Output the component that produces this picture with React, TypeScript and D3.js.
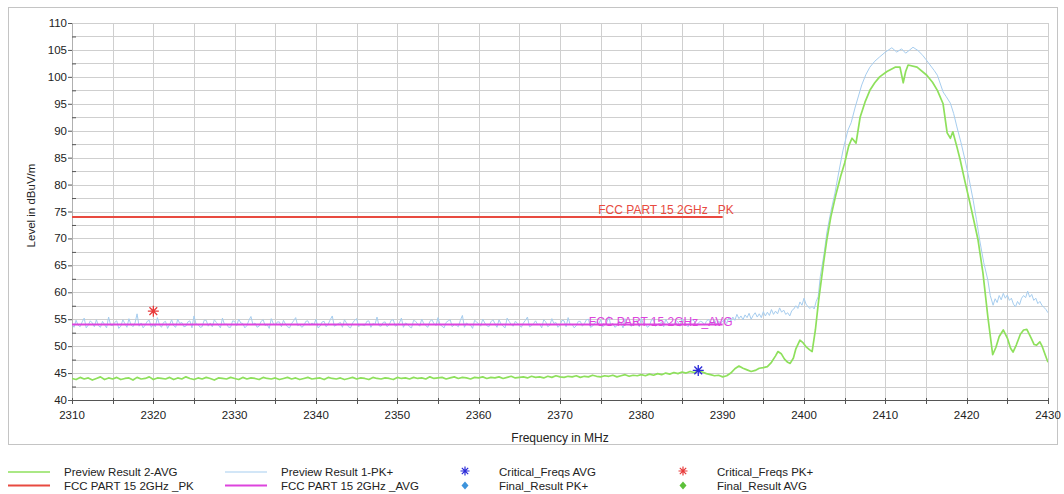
import React from "react";
import * as d3 from "d3";

// ---------- DATA ----------
const xTickLabels = [2310, 2320, 2330, 2340, 2350, 2360, 2370, 2380, 2390, 2400, 2410, 2420, 2430];
const yTickLabels = [40, 45, 50, 55, 60, 65, 70, 75, 80, 85, 90, 95, 100, 105, 110];

// Preview Result 1-PK+ : uniform sweep 2310..2390 MHz, 0.25 MHz step
const pkSweepStart = 2310;
const pkSweepStep = 0.25;
const pkSweepLevels = [
  54.1, 53.5, 54.8, 53.9, 53.6, 54.5, 55.2, 53.4, 53.9, 54.7,
  54.3, 53.6, 54.9, 53.8, 53.5, 54.6, 54.0, 53.4, 55.4, 53.9,
  53.8, 54.4, 54.7, 53.3, 53.7, 54.9, 54.2, 53.5, 55.1, 54.0,
  53.6, 54.3, 56.0, 53.7, 54.3, 53.4, 53.9, 54.6, 54.8, 53.5,
  54.1, 53.6, 55.3, 54.0, 53.5, 54.4, 54.6, 53.3, 54.0, 54.9,
  53.8, 53.5, 55.0, 54.2, 54.4, 53.6, 53.7, 54.5, 54.7, 53.4,
  55.6, 54.1, 54.0, 53.5, 53.6, 54.8, 54.8, 53.7, 54.3, 53.6,
  54.9, 54.4, 53.9, 53.4, 55.2, 54.0, 54.1, 53.5, 53.5, 54.7,
  54.6, 53.8, 55.0, 54.3, 54.2, 53.4, 53.8, 54.8, 55.5, 54.0,
  54.3, 53.5, 53.7, 54.6, 54.9, 53.8, 54.0, 53.3, 55.1, 54.2,
  53.9, 54.5, 54.5, 53.6, 54.8, 54.1, 53.6, 53.4, 54.2, 54.7,
  55.3, 53.8, 54.0, 53.5, 53.8, 54.6, 54.7, 53.9, 54.3, 54.0,
  55.0, 53.4, 53.7, 54.5, 54.6, 53.6, 54.1, 54.9, 55.6, 53.7,
  53.9, 54.2, 54.4, 53.5, 54.9, 54.3, 53.6, 53.4, 54.3, 54.8,
  55.1, 53.6, 54.0, 53.9, 53.8, 54.6, 54.7, 53.5, 54.2, 54.0,
  55.4, 53.8, 53.7, 54.4, 54.5, 53.6, 54.0, 54.8, 54.9, 53.7,
  53.9, 54.3, 55.2, 53.5, 54.3, 54.1, 53.6, 53.4, 54.8, 54.6,
  54.1, 53.7, 55.0, 54.2, 53.8, 53.5, 54.6, 54.9, 54.2, 53.8,
  55.3, 54.0, 53.7, 53.4, 54.4, 54.7, 54.9, 53.6, 54.0, 53.9,
  53.6, 54.8, 55.7, 53.5, 54.3, 54.0, 53.9, 53.3, 54.8, 54.5,
  54.1, 53.7, 55.0, 54.3, 53.8, 53.6, 54.5, 54.9, 54.2, 53.5,
  54.9, 54.1, 53.7, 53.4, 55.2, 54.6, 54.0, 53.7, 54.6, 54.3,
  53.9, 53.5, 54.3, 54.8, 55.4, 53.6, 53.8, 54.2, 54.7, 54.0,
  54.1, 53.4, 54.9, 54.5, 53.6, 53.9, 55.1, 54.2, 54.4, 53.5,
  53.9, 54.8, 54.7, 53.6, 55.3, 54.0, 54.0, 53.4, 53.8, 54.6,
  54.6, 53.7, 54.2, 54.9, 55.0, 53.5, 53.7, 54.3, 54.5, 54.1,
  54.9, 53.6, 53.9, 54.4, 55.5, 53.8, 54.2, 53.5, 53.8, 54.7,
  54.3, 53.4, 55.1, 54.0, 54.0, 53.7, 53.9, 54.6, 54.7, 53.6,
  55.2, 54.1, 54.1, 53.5, 53.8, 54.9, 54.9, 53.7, 54.0, 54.2,
  54.4, 53.6, 55.0, 54.3, 54.1, 53.8, 53.9, 54.8, 54.5, 53.7,
  55.2, 54.4, 54.0, 53.6, 54.7, 54.9, 54.7, 53.8, 54.3, 54.6,
  54.5, 53.9, 54.6, 55.0, 54.3, 54.1, 54.9, 53.9, 54.7, 54.2,
  54.6,
];
// Preview Result 1-PK+ : 2390.25..2401.75 MHz, 0.25 MHz step
const pkMidStart = 2390.25;
const pkMidStep = 0.25;
const pkMidLevels = [
  54.9, 54.2, 55.3,
  54.6, 55.4, 54.8, 55.9,
  55.1, 55.6, 54.9, 55.8,
  55.3, 56.1, 55.0, 55.7,
  56.2, 55.4, 56.0, 55.3,
  56.4, 55.6, 56.3, 55.7,
  56.8, 55.9, 56.5, 56.0,
  57.1, 56.3, 56.7, 55.9,
  56.2, 55.6, 56.6, 56.9,
  57.5, 57.0, 58.2, 57.6,
  58.9, 57.8, 57.3, 57.0,
  57.4, 56.9, 58.3, 59.2,
];
// Preview Result 1-PK+ : main emission (frequency, level)
const pkPeakFreqs = [
  2402, 2402.5, 2402.8, 2403.3, 2403.8, 2404.3, 2404.8, 2405.4, 2405.8, 2406.3,
  2407.1, 2407.6, 2408.1, 2408.7, 2409.3, 2410.0, 2410.8, 2411.4, 2412.0, 2412.5,
  2413.0, 2413.4, 2414.0, 2414.6, 2415.0, 2415.5, 2416.0, 2416.4, 2417.1, 2417.5,
  2418.0, 2418.4, 2418.8, 2419.3, 2419.8, 2420.3, 2420.8, 2421.2, 2421.6, 2422.1,
  2422.6, 2422.9,
];
const pkPeakLevels = [
  62.9, 67.5, 71.0, 75.0, 78.4, 82.5, 86.4, 90.1, 91.5, 94.4,
  98.5, 100.4, 101.8, 102.9, 103.7, 104.6, 105.4, 104.6, 105.2, 104.4,
  105.0, 105.5, 104.9, 104.0, 103.2, 102.2, 101.2, 100.3, 97.2, 96.3,
  95.1, 93.2, 90.7, 87.8, 84.6, 81.0, 77.1, 73.5, 69.7, 65.5,
  62.3, 59.4,
];
// Preview Result 1-PK+ : 2423.25..2430 MHz, 0.25 MHz step
const pkRightStart = 2423.25;
const pkRightStep = 0.25;
const pkRightLevels = [
  57.6, 58.8, 58.1, 59.4,
  58.6, 59.8, 58.9, 59.5,
  58.5, 58.9, 57.8, 57.3,
  58.3, 57.7, 58.9, 59.4,
  59.0, 60.2, 59.1, 59.6,
  58.5, 58.9, 57.9, 58.3,
  57.6, 57.2, 56.8, 56.2,
];

// Preview Result 2-AVG : uniform sweep 2310..2385 MHz, 0.5 MHz step
const avgSweepStart = 2310;
const avgSweepStep = 0.5;
const avgSweepLevels = [
  44.0, 43.8, 44.2, 43.9, 44.1, 43.7, 44.0, 44.3, 43.8, 44.1,
  43.9, 44.2, 43.8, 44.0, 44.1, 43.7, 44.2, 43.9, 44.0, 44.3,
  43.8, 44.1, 44.0, 43.9, 44.2, 43.8, 44.1, 43.9, 44.3, 44.0,
  43.8, 44.1, 43.9, 44.2, 44.0, 43.7, 44.1, 44.0, 43.9, 44.2,
  44.0, 43.8, 44.2, 43.9, 44.1, 44.0, 43.8, 44.2, 44.0, 43.9,
  44.1, 43.8, 44.0, 44.2, 43.9, 44.1, 43.8, 44.0, 44.2, 43.9,
  44.0, 44.1, 43.8, 44.2, 44.0, 43.9, 44.1, 43.8, 44.0, 44.2,
  43.9, 44.1, 44.0, 43.8, 44.2, 44.0, 43.9, 44.1, 44.0, 43.8,
  44.2, 44.0, 44.1, 43.9, 44.2, 44.0, 44.1, 43.9, 44.3, 44.0,
  44.1, 44.2, 43.9, 44.1, 44.3, 44.0, 44.2, 44.1, 43.9, 44.2,
  44.1, 44.3, 44.0, 44.2, 44.1, 44.3, 44.0, 44.2, 44.4, 44.1,
  44.2, 44.3, 44.1, 44.4, 44.2, 44.3, 44.1, 44.4, 44.2, 44.5,
  44.3, 44.2, 44.4, 44.3, 44.5, 44.2, 44.4, 44.3, 44.6, 44.4,
  44.3, 44.5, 44.4, 44.6, 44.3, 44.5, 44.7, 44.4, 44.6, 44.5,
  44.7, 44.5, 44.8, 44.6, 44.9, 44.7, 45.0, 44.8, 45.1, 44.9,
  45.2,
];
// Preview Result 2-AVG : 2385.5..2430 MHz (frequency, level)
const avgTailFreqs = [
  2385.5, 2386, 2386.5, 2387, 2387.5, 2388, 2388.5, 2389, 2389.5, 2390,
  2390.5, 2391, 2391.5, 2392, 2392.5, 2393, 2393.5, 2394, 2394.5, 2395,
  2395.5, 2396, 2396.5, 2396.8, 2397.2, 2397.6, 2398, 2398.3, 2398.7, 2399,
  2399.5, 2399.9, 2400.3, 2400.7, 2401.0, 2401.4, 2401.8, 2402.4, 2402.8, 2403.3,
  2403.9, 2404.5, 2405.0, 2405.5, 2405.9, 2406.4, 2406.9, 2407.5, 2408.1, 2408.7,
  2409.3, 2410.2, 2411.2, 2411.8, 2412.2, 2412.5, 2412.8, 2413.9, 2415.1, 2415.8,
  2416.4, 2417.1, 2417.6, 2418.0, 2418.3, 2418.8, 2419.2, 2419.8, 2420.4, 2420.9,
  2421.4, 2422.0, 2422.6, 2423.2, 2423.6, 2424.0, 2424.5, 2425.0, 2425.4, 2425.7,
  2426.1, 2426.6, 2427.0, 2427.4, 2427.9, 2428.3, 2428.6, 2429.0, 2429.3, 2429.7,
  2430.0,
];
const avgTailLevels = [
  45.0, 45.3, 45.1, 45.4, 45.2, 44.9, 44.7, 44.5, 44.6, 44.3,
  44.5, 45.0, 45.8, 46.3, 45.9, 45.6, 45.3, 45.5, 45.9, 46.0,
  46.2, 47.0, 48.2, 49.0, 48.6, 47.6, 47.0, 46.8, 47.8, 49.5,
  51.1, 50.6, 49.8, 49.3, 49.0, 53.0, 58.5, 65.4, 69.7, 74.0,
  78.0, 81.5, 84.0, 87.2, 88.6, 87.7, 92.5, 95.3, 97.5, 98.9,
  100.0, 101.0, 101.8, 101.8, 98.9, 101.0, 102.2, 101.8, 100.3, 99.0,
  97.5, 95.0, 89.6, 88.6, 89.8, 87.0, 84.6, 80.5, 76.6, 73.2,
  69.7, 63.6, 55.5, 48.4, 49.8, 51.8, 53.0, 51.5, 49.6, 48.9,
  50.2, 52.2, 53.0, 53.1, 51.6, 50.3, 50.2, 50.8, 49.9, 48.2,
  47.0,
];

// Limit lines
const limitFreqs = [2310, 2390];
const limitPK = [74, 74];
const limitAVG = [54, 54];

// Critical frequencies
const critPK = [{ f: 2320, v: 56.5 }];
const critAVG = [{ f: 2387, v: 45.5 }];

// Legend
const legendItems = [
  { label: "Preview Result 2-AVG", kind: "line", color: "#8ee05c", w: 1.5, col: 0, row: 0 },
  { label: "FCC PART 15 2GHz _PK", kind: "line", color: "#e84a40", w: 2, col: 0, row: 1 },
  { label: "Preview Result 1-PK+", kind: "line", color: "#a6cdef", w: 1.2, col: 1, row: 0 },
  { label: "FCC PART 15 2GHz _AVG", kind: "line", color: "#dd44dd", w: 2, col: 1, row: 1 },
  { label: "Critical_Freqs AVG", kind: "star", color: "#2a2ad8", col: 2, row: 0 },
  { label: "Final_Result PK+", kind: "diamond", color: "#3d94dc", col: 2, row: 1 },
  { label: "Critical_Freqs PK+", kind: "star", color: "#e83a3a", col: 3, row: 0 },
  { label: "Final_Result AVG", kind: "diamond", color: "#5cc03a", col: 3, row: 1 },
];

// ---------- LAYOUT ----------
const W = 1064;
const H = 494;
const plot = { left: 72, right: 1048, top: 23, bottom: 400 };
const FONT = "'Liberation Sans', Arial, sans-serif";

function Star({ x, y, r, color, sw = 1.3 }: { x: number; y: number; r: number; color: string; sw?: number }) {
  const d = [0, 45, 90, 135]
    .map((a) => {
      const rad = (a * Math.PI) / 180;
      const dx = Math.cos(rad) * r;
      const dy = Math.sin(rad) * r;
      return `M${x - dx},${y - dy}L${x + dx},${y + dy}`;
    })
    .join("");
  return <path d={d} stroke={color} strokeWidth={sw} fill="none" />;
}

export default function App() {
  const x = d3.scaleLinear().domain([2310, 2430]).range([plot.left, plot.right]);
  const y = d3.scaleLinear().domain([40, 110]).range([plot.bottom, plot.top]);

  const pkData: [number, number][] = [
    ...pkSweepLevels.map((v, i) => [pkSweepStart + i * pkSweepStep, v] as [number, number]),
    ...pkMidLevels.map((v, i) => [pkMidStart + i * pkMidStep, v] as [number, number]),
    ...pkPeakFreqs.map((f, i) => [f, pkPeakLevels[i]] as [number, number]),
    ...pkRightLevels.map((v, i) => [pkRightStart + i * pkRightStep, v] as [number, number]),
  ];
  const avgData: [number, number][] = [
    ...avgSweepLevels.map((v, i) => [avgSweepStart + i * avgSweepStep, v] as [number, number]),
    ...avgTailFreqs.map((f, i) => [f, avgTailLevels[i]] as [number, number]),
  ];

  const line = d3
    .line<[number, number]>()
    .x((d) => x(d[0]))
    .y((d) => y(d[1]));

  const xGrid = d3.range(2310, 2430.001, 5);
  const yGrid = d3.range(40, 110.001, 2.5);

  const limPK = limitFreqs.map((f, i) => [f, limitPK[i]] as [number, number]);
  const limAVG = limitFreqs.map((f, i) => [f, limitAVG[i]] as [number, number]);

  const colX = [8, 225, 465, 683];
  const rowY = [472, 485.5];

  return (
    <svg
      width={W}
      height={H}
      style={{ position: "absolute", left: 0, top: 0, background: "#fff" }}
      fontFamily={FONT}
    >
      <defs>
        <clipPath id="plotclip">
          <rect x={plot.left} y={plot.top - 1} width={plot.right - plot.left} height={plot.bottom - plot.top + 1} />
        </clipPath>
      </defs>
      {/* outer frame */}
      <rect x={8.5} y={7.5} width={1049} height={437} fill="none" stroke="#c4c4c4" strokeWidth={1} />

      {/* grid */}
      {yGrid.map((v) => (
        <line key={"gy" + v} x1={plot.left} x2={plot.right} y1={Math.round(y(v)) + 0.5} y2={Math.round(y(v)) + 0.5} stroke="#cfcfcf" strokeWidth={1} />
      ))}
      {xGrid.map((f) => (
        <line key={"gx" + f} x1={Math.round(x(f)) + 0.5} x2={Math.round(x(f)) + 0.5} y1={plot.top} y2={plot.bottom} stroke="#cfcfcf" strokeWidth={1} />
      ))}

      {/* axes */}
      <line x1={plot.left + 0.5} x2={plot.left + 0.5} y1={plot.top} y2={plot.bottom} stroke="#b0b0b0" />
      <line x1={plot.left} x2={plot.right} y1={plot.bottom + 0.5} y2={plot.bottom + 0.5} stroke="#555" strokeWidth={1.2} />

      {/* y ticks */}
      {yTickLabels.map((v) => (
        <g key={"yt" + v}>
          <line x1={plot.left - 4} x2={plot.left} y1={y(v) + 0.5} y2={y(v) + 0.5} stroke="#555" />
          <text x={plot.left - 5} y={y(v) + 4} textAnchor="end" fontSize={11.5} fill="#222">
            {v}
          </text>
        </g>
      ))}
      {yTickLabels.slice(0, -1).map((v) => (
        <line key={"ym" + v} x1={plot.left} x2={plot.left + 4} y1={y(v + 2.5) + 0.5} y2={y(v + 2.5) + 0.5} stroke="#555" />
      ))}

      {/* x ticks */}
      {xGrid.map((f) => (
        <line key={"xt" + f} x1={Math.round(x(f)) + 0.5} x2={Math.round(x(f)) + 0.5} y1={plot.bottom - 2} y2={plot.bottom + 4} stroke="#555" />
      ))}
      {xTickLabels.map((f) => (
        <text key={"xl" + f} x={x(f)} y={plot.bottom + 19} textAnchor="middle" fontSize={11.5} fill="#222">
          {f}
        </text>
      ))}

      {/* axis titles */}
      <text x={(plot.left + plot.right) / 2} y={442} textAnchor="middle" fontSize={12} fill="#222">
        Frequency in MHz
      </text>
      <text transform={`translate(35,${(plot.top + plot.bottom) / 2 - 6}) rotate(-90)`} textAnchor="middle" fontSize={11.5} fill="#222">
        Level in dBuV/m
      </text>

      {/* traces */}
      <g clipPath="url(#plotclip)">
        <path d={line(pkData) || ""} fill="none" stroke="#a6cdef" strokeWidth={1} strokeLinejoin="round" />
        <path d={line(avgData) || ""} fill="none" stroke="#8ee05c" strokeWidth={1.7} strokeLinejoin="round" />
        <path d={line(limPK) || ""} fill="none" stroke="#e84a40" strokeWidth={2} />
        <path d={line(limAVG) || ""} fill="none" stroke="#dd44dd" strokeWidth={2} />
      </g>

      {/* limit labels */}
      <text x={x(2390) + 11} y={y(74) - 3} textAnchor="end" fontSize={12} fill="#e84a40">
        FCC PART 15 2GHz _PK
      </text>
      <text x={x(2390) + 10} y={y(54) + 1} textAnchor="end" fontSize={12} fill="#dd44dd">
        FCC PART 15 2GHz _AVG
      </text>

      {/* critical frequency markers */}
      {critPK.map((c, i) => (
        <Star key={"cp" + i} x={x(c.f)} y={y(c.v)} r={5.5} color="#e83a3a" />
      ))}
      {critAVG.map((c, i) => (
        <Star key={"ca" + i} x={x(c.f)} y={y(c.v)} r={5.5} color="#2a2ad8" />
      ))}

      {/* legend */}
      {legendItems.map((it) => {
        const cx = colX[it.col];
        const cy = rowY[it.row];
        return (
          <g key={it.label}>
            {it.kind === "line" && (
              <line x1={cx} x2={cx + 42} y1={cy} y2={cy} stroke={it.color} strokeWidth={it.w} />
            )}
            {it.kind === "star" && <Star x={cx} y={cy - 1} r={4.5} color={it.color} sw={1.2} />}
            {it.kind === "diamond" && (
              <path d={`M${cx},${cy - 4}L${cx + 3.5},${cy}L${cx},${cy + 4}L${cx - 3.5},${cy}Z`} fill={it.color} />
            )}
            <text x={it.kind === "line" ? cx + 56 : cx + 34} y={cy + 4} fontSize={11.5} fill="#222">
              {it.label}
            </text>
          </g>
        );
      })}
    </svg>
  );
}
